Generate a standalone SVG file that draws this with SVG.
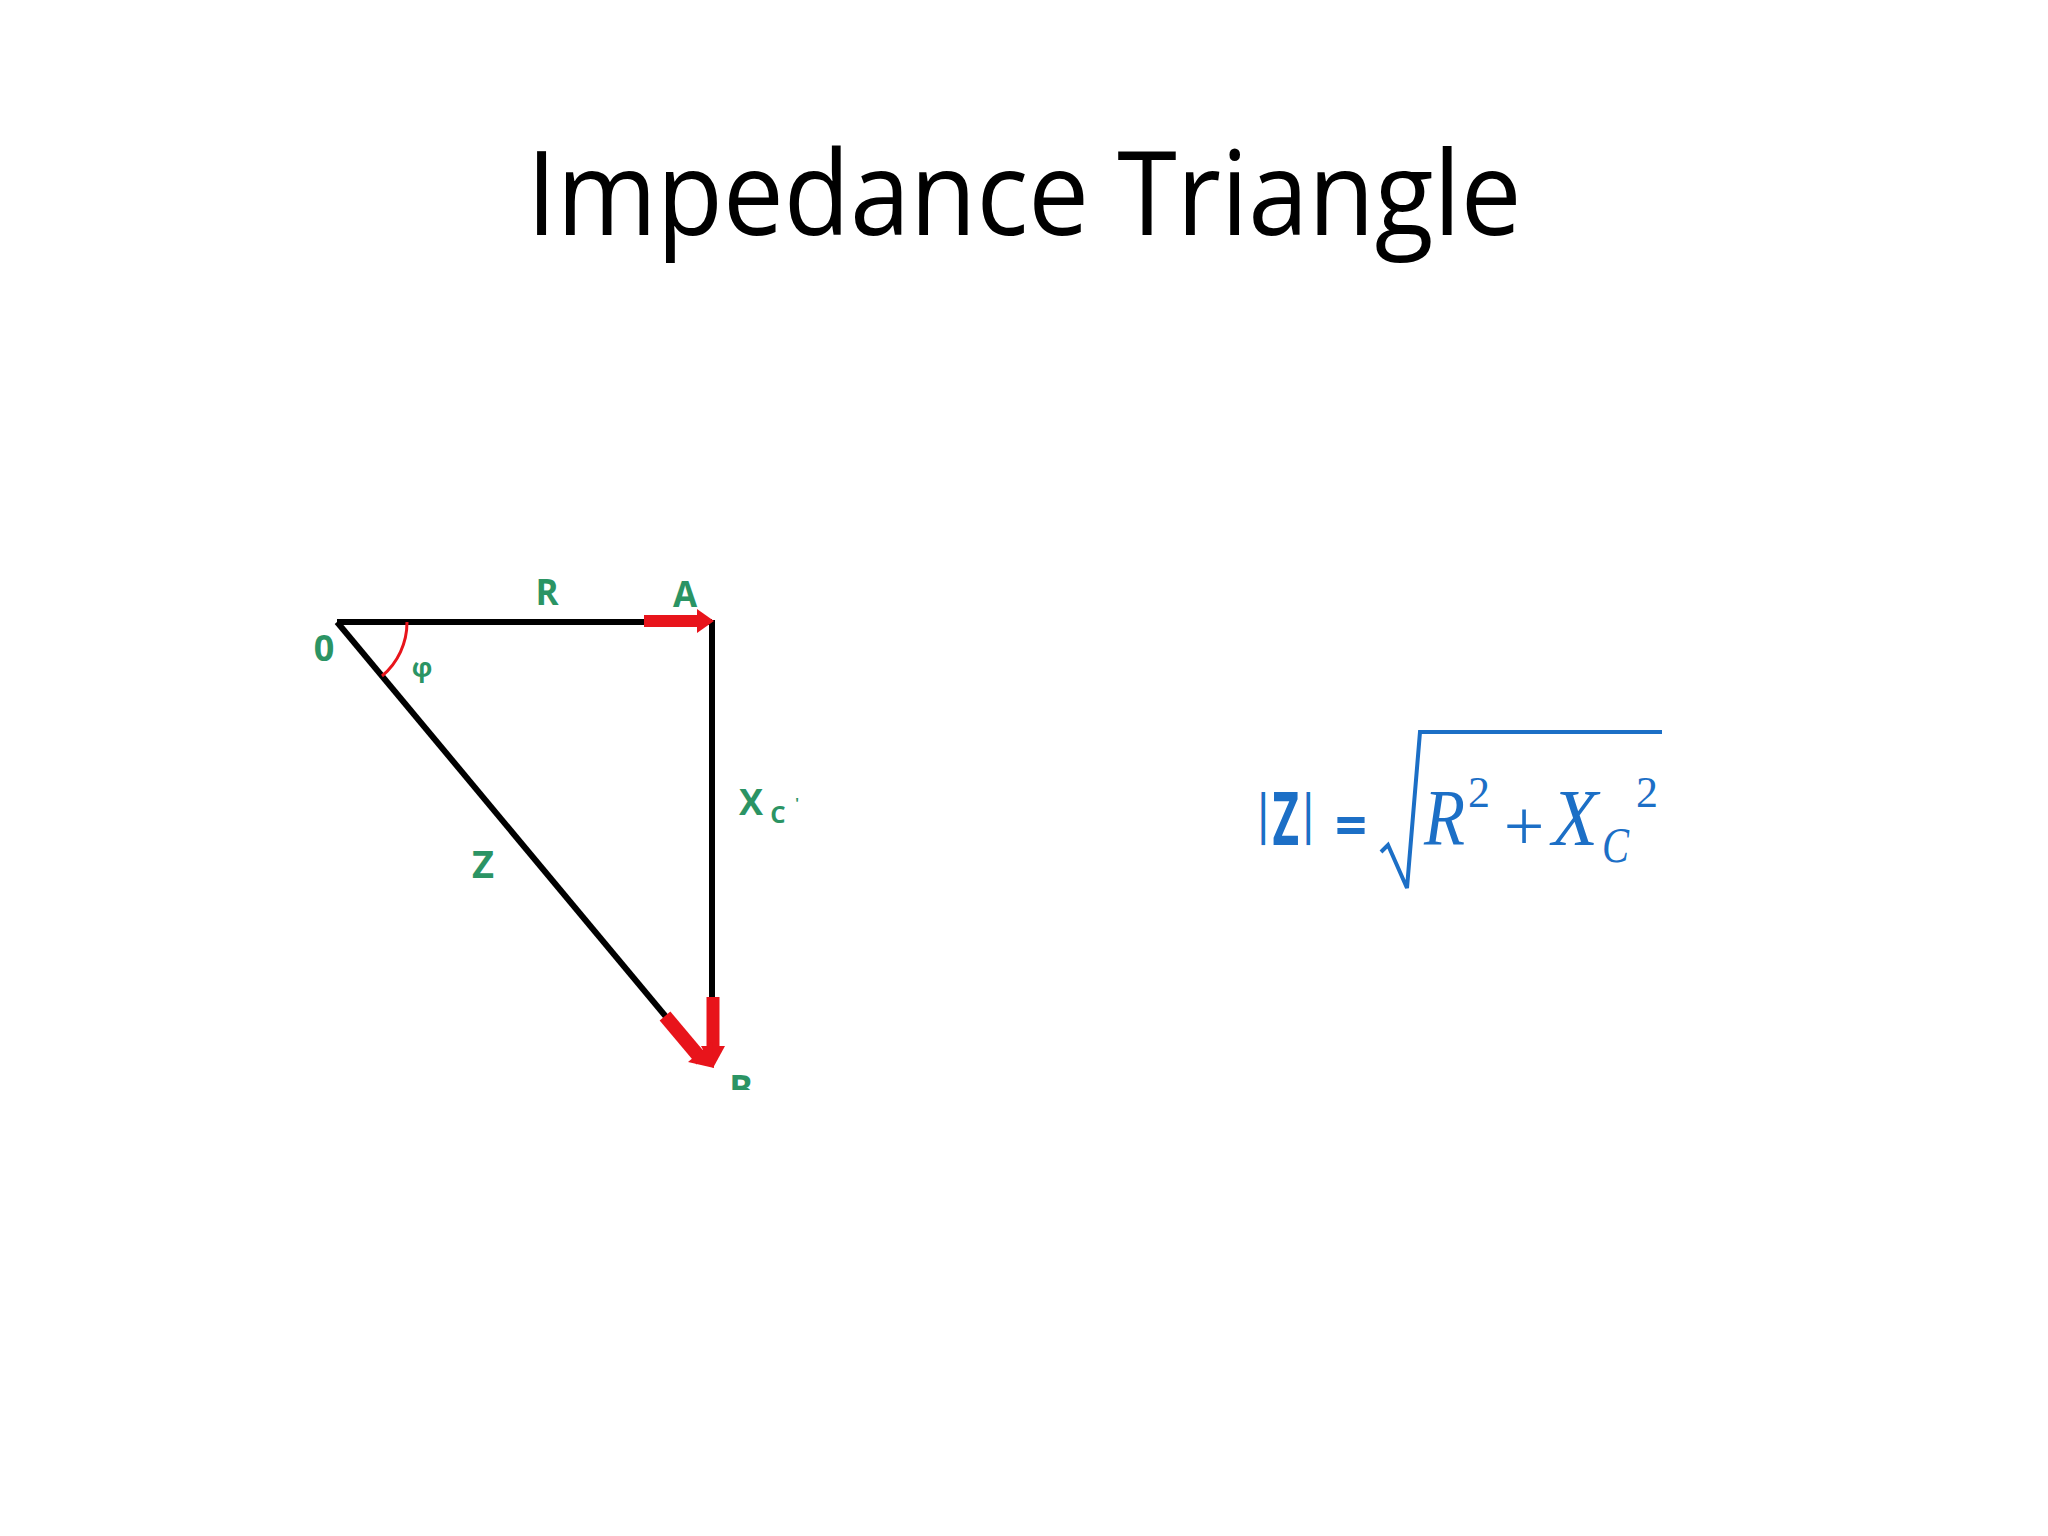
<svg xmlns="http://www.w3.org/2000/svg" width="2048" height="1536" viewBox="0 0 2048 1536">
<style>
.lbl{font-family:"Open Sans","Liberation Sans",sans-serif;font-weight:bold;fill:#2b9464;text-anchor:middle}
.edge{stroke:#000;stroke-width:6;fill:none}
.red{stroke:#e8141b;fill:none}
.redf{fill:#e8141b}
.math{font-family:"Liberation Serif","DejaVu Serif",serif;font-style:italic;fill:#1c6fc6}
.mathn{font-family:"Liberation Serif","DejaVu Serif",serif;fill:#1c6fc6}
</style>
<defs>
<clipPath id="bclip"><rect x="700" y="1040" width="100" height="50"/></clipPath>
</defs>
<rect width="2048" height="1536" fill="#fff"/>
<text id="title" x="1024" y="235" font-family="Open Sans, Noto Sans, sans-serif" font-size="118" fill="#000" text-anchor="middle" textLength="995" lengthAdjust="spacingAndGlyphs">Impedance Triangle</text>
<g id="connectors">
<line class="edge" x1="337" y1="622" x2="712" y2="622"/>
<line class="edge" x1="712" y1="620" x2="712" y2="1000"/>
<line class="edge" x1="337" y1="622" x2="667" y2="1018"/>
<path class="red" stroke-width="3" d="M407 622 A70 70 0 0 1 382 676"/>
<line class="red" stroke-width="12" x1="644" y1="621" x2="700" y2="621"/>
<polygon class="redf" points="697,609 714,621 697,633"/>
<line class="red" stroke-width="13" x1="713" y1="997" x2="713" y2="1050"/>
<polygon class="redf" points="701,1046 725,1046 713,1068"/>
<line class="red" stroke-width="14" x1="665" y1="1016" x2="702" y2="1060"/>
<polygon class="redf" points="688,1062 712,1042 714,1068"/>
</g>
<g id="node-O"><text class="lbl" x="324" y="661" font-size="36">0</text></g>
<g id="node-A"><text class="lbl" x="685" y="607" font-size="35">A</text></g>
<g id="node-B"><text class="lbl" x="741" y="1101" font-size="35" clip-path="url(#bclip)">B</text></g>
<g id="label-R"><text class="lbl" x="547" y="605" font-size="35">R</text></g>
<g id="label-Z"><text class="lbl" x="483" y="878" font-size="38">Z</text></g>
<g id="label-phi"><text class="lbl" x="422" y="677" font-size="26" font-weight="normal">φ</text></g>
<g id="label-Xc"><text class="lbl" x="751" y="815" font-size="36">X</text><text class="lbl" x="778" y="823" font-size="24" font-weight="normal">C</text><text class="lbl" x="797" y="808" font-size="14" font-weight="normal">'</text></g>
<g id="formula">
<text transform="translate(1254 845) scale(0.62 1)" font-family="Open Sans, Liberation Sans, sans-serif" font-weight="bold" fill="#1c6fc6"><tspan font-size="54" y="-12">|</tspan><tspan font-size="74" y="0">Z</tspan><tspan font-size="54" y="-12">|</tspan></text>
<text x="1351" y="845" font-family="Open Sans, Liberation Sans, sans-serif" font-weight="bold" font-size="56" fill="#1c6fc6" text-anchor="middle">=</text>
<path d="M1381 852 L1388 845 L1407 888 L1420 732 L1662 732" stroke="#1c6fc6" stroke-width="4" fill="none"/>
<text class="math" x="1424" y="845" font-size="80" textLength="41" lengthAdjust="spacingAndGlyphs">R</text>
<text class="mathn" x="1479" y="807" font-size="44" text-anchor="middle">2</text>
<text class="mathn" x="1524" y="850" font-size="72" text-anchor="middle">+</text>
<text class="math" x="1552" y="845" font-size="80" textLength="46" lengthAdjust="spacingAndGlyphs">X</text>
<text class="math" x="1602" y="862" font-size="50" textLength="27" lengthAdjust="spacingAndGlyphs">C</text>
<text class="mathn" x="1647" y="807" font-size="44" text-anchor="middle">2</text>
</g>
</svg>
